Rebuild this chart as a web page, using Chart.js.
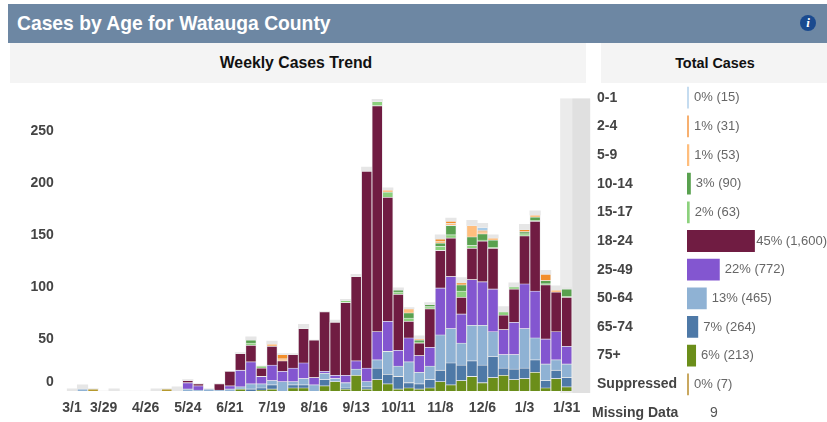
<!DOCTYPE html>
<html>
<head>
<meta charset="utf-8">
<script src="https://cdn.jsdelivr.net/npm/chart.js@4"></script>
<style>
  html, body { margin: 0; padding: 0; background: #fff; }
  body { width: 827px; height: 422px; position: relative; overflow: hidden; font-family: "Liberation Sans", Arial, sans-serif; }
  .box { position: absolute; box-sizing: border-box; }
  #titleBar { left: 8px; top: 4px; width: 819px; height: 39px; background: #6d87a3; color: #fff; font-size: 19.3px; font-weight: bold; line-height: 39px; padding-left: 9px; }
  #info { left: 800px; top: 15px; width: 16px; height: 16px; border-radius: 50%; background: #1a4a8f; color: #fff; font: italic bold 13px/16px "Liberation Serif", serif; text-align: center; }
  .sub { top: 43px; height: 40px; background: #f4f4f4; color: #111; font-weight: bold; line-height: 40px; text-align: center; }
  #subTrend { left: 10px; width: 576px; font-size: 15.8px; padding-right: 4px; }
  #subTotal { left: 601px; width: 228px; font-size: 14.4px; }
  #trendWrap { left: 0; top: 85px; width: 593px; height: 337px; }
  #totalWrap { left: 590px; top: 75px; width: 237px; height: 332px; }
  #missLabel { left: 592px; top: 404px; font-size: 14px; font-weight: bold; color: #444; }
  #missValue { left: 710px; top: 404px; font-size: 14px; color: #555; }
</style>
</head>
<body>
<div class="box" id="titleBar">Cases by Age for Watauga County</div>
<div class="box" id="info">i</div>
<div class="box sub" id="subTrend">Weekly Cases Trend</div>
<div class="box sub" id="subTotal">Total Cases</div>
<div class="box" id="trendWrap"><canvas id="trend"></canvas></div>
<div class="box" id="totalWrap"><canvas id="total"></canvas></div>
<div class="box" id="missLabel">Missing Data</div>
<div class="box" id="missValue">9</div>

<script>
// weekly categories, two empty weeks at the end keep the axis running under the grey band
const weeks = ['3/1','3/15','3/22','3/29','4/5','4/12','4/19','4/26','5/3','5/10',
  '5/17','5/24','5/31','6/7','6/14','6/21','6/28','7/5','7/12','7/19',
  '7/26','8/2','8/9','8/16','8/23','8/30','9/6','9/13','9/20','9/27',
  '10/4','10/11','10/18','10/25','11/1','11/8','11/15','11/22','11/29','12/6',
  '12/13','12/20','12/27','1/3','1/10','1/17','1/24','1/31','2/7','2/14'];
const shownWeeks = ['3/1','3/29','4/26','5/24','6/21','7/19','8/16','9/13','10/11','11/8','12/6','1/3','1/31'];
const yTicks = [0, 50, 100, 150, 200, 250];

const age75 = [0,0,0,0,0,0,0,0,0,0, 0,0,0,0,0,0,2,0,1,2, 0,3,3,0,5,9,2,15,2,11, 7,2,3,2,3,9,6,10,14,8, 13,15,11,12,18,3,12,4];
const age65 = [0,0,0,0,0,0,0,0,0,0, 0,0,0,0,0,0,0,2,2,4, 0,3,3,0,6,0,1,0,2,11, 9,12,5,5,8,11,21,15,15,17, 20,7,10,10,12,7,8,9];
const age50 = [0,2,0,0,0,0,0,0,0,0, 0,2,1,2,1,2,2,5,4,4, 9,3,6,6,6,3,5,6,5,8, 22,10,20,11,13,34,33,21,34,38, 24,13,14,38,21,16,10,13];
const age25 = [0,0,0,0,0,0,0,0,0,0, 0,6,4,0,0,3,16,21,7,15, 10,13,15,7,2,3,7,8,13,27, 29,15,23,16,18,45,50,28,44,42, 41,24,31,43,45,24,27,17];
const age18 = [0,0,0,0,0,0,0,0,0,0, 0,2,2,0,6,14,16,16,8,18, 10,13,33,36,57,51,70,81,189,217, 119,54,16,12,37,36,37,16,30,39, 39,14,32,46,67,52,38,47];
const age15 = [0,0,0,0,0,0,0,0,0,0, 0,0,0,0,0,0,0,2,2,0, 0,0,0,0,0,0,2,0,0,4, 5,2,3,1,2,4,3,6,3,1, 1,3,2,2,1,1,0,1];
const age10 = [0,0,0,0,0,0,0,0,0,0, 0,0,0,0,0,0,0,3,0,0, 0,0,0,0,0,0,0,0,0,0, 0,2,5,2,2,3,9,6,8,6, 7,0,0,2,3,3,0,7];
const age5  = [0,0,0,0,0,0,0,0,0,0, 0,0,0,0,0,0,0,0,0,2, 2,0,0,0,0,0,0,0,0,0, 2,0,4,1,0,2,2,0,11,2, 2,0,0,0,2,0,2,0];
const age2  = [0,0,0,0,0,0,0,0,0,0, 0,0,0,0,0,0,0,0,0,0, 4,0,0,0,0,0,0,0,0,0, 0,0,0,0,0,2,2,2,0,1, 0,0,0,2,0,6,0,0];
const age0  = [0,0,0,0,0,0,0,0,0,0, 0,0,0,0,0,0,0,0,0,0, 0,0,0,0,0,0,0,0,0,0, 0,0,0,0,0,0,0,0,0,3, 0,0,0,0,0,0,0,0];
const suppressed = [0,0,2,0,0,0,0,0,0,2, 0,0,0,0,0,0,0,0,0,0, 0,0,0,0,0,0,0,0,0,0, 0,0,0,0,0,0,0,0,0,0, 0,0,0,0,0,0,0,0];
const unlabeled  = [2,4,0,0,2,0,0,0,2,0, 4,1,0,0,0,0,1,3,0,3, 1,1,4,0,0,2,1,2,4,2, 2,2,1,3,2,4,3,5,5,4, 3,5,4,5,4,4,4,1];

const ageGroups  = ['0-1','2-4','5-9','10-14','15-17','18-24','25-49','50-64','65-74','75+','Suppressed'];
const totalCases = [15, 31, 53, 90, 63, 1600, 772, 465, 264, 213, 7];
const totalPct   = ['0%','1%','1%','3%','2%','45%','22%','13%','7%','6%','0%'];
const ageColors  = ['#a9cce8','#f28e2b','#ffbe7d','#59a14f','#8cd17d','#701c42','#8356d0','#8fb2d4','#4e79a7','#6b8e1a','#b6992d'];
// the thin swatches on the right read paler than the same colour in the stacks
const totalColors = ['#c5dcf0','#f7b070','#ffbe7d','#59a14f','#8cd17d','#701c42','#8356d0','#8fb2d4','#4e79a7','#6b8e1a','#c9a860'];

const haloColor = '#ebebeb';
const labelColor = '#444';

// stacked bottom to top, same order as the picture
const stack = [
  [age75, 9], [age65, 8], [age50, 7], [age25, 6], [age18, 5], [age15, 4],
  [age10, 3], [age5, 2], [age2, 1], [age0, 0], [suppressed, 10]
];
const trendSets = stack.map(s => ({
  label: ageGroups[s[1]],
  data: s[0],
  backgroundColor: ageColors[s[1]],
  borderColor: haloColor,
  borderWidth: 0.8
}));
trendSets.push({ label: 'Other', data: unlabeled, backgroundColor: '#e6e6e6', borderWidth: 0 });

// grey band behind the latest weeks
const bandPlugin = {
  id: 'band',
  beforeDatasetsDraw(chart) {
    const c = chart.ctx, xs = chart.scales.x, ys = chart.scales.y;
    const last = xs.getPixelForValue(47);
    c.save();
    c.fillStyle = '#ebebeb';
    c.fillRect(last - 6.5, ys.top, 12, ys.bottom - ys.top + 2);
    c.fillStyle = '#e0e0e0';
    c.fillRect(last + 5.5, ys.top, 18, ys.bottom - ys.top + 2);
    c.restore();
  }
};

// the zero label sits above the baseline in the original
const zeroLabelPlugin = {
  id: 'zeroLabel',
  afterDraw(chart) {
    const c = chart.ctx, ys = chart.scales.y;
    c.save();
    c.font = 'bold 14px "Liberation Sans", Arial, sans-serif';
    c.fillStyle = labelColor;
    c.textAlign = 'right';
    c.textBaseline = 'middle';
    c.fillText('0', ys.right - 13, ys.getPixelForValue(0) - 9);
    c.restore();
  }
};

new Chart(document.getElementById('trend'), {
  type: 'bar',
  data: { labels: weeks, datasets: trendSets },
  plugins: [bandPlugin, zeroLabelPlugin],
  options: {
    responsive: true,
    maintainAspectRatio: false,
    animation: false,
    layout: { padding: { top: 3, left: 0, right: 0, bottom: 0 } },
    plugins: { legend: { display: false }, tooltip: { enabled: false } },
    datasets: { bar: { categoryPercentage: 1, barPercentage: 1 } },
    scales: {
      x: {
        stacked: true,
        grid: { display: false },
        border: { display: false },
        afterFit(s) { s.height = 31; },
        ticks: {
          autoSkip: false,
          maxRotation: 0,
          padding: 1,
          color: labelColor,
          font: { family: '"Liberation Sans", Arial, sans-serif', size: 14, weight: 'bold' },
          callback(v) { return shownWeeks.includes(weeks[v]) ? weeks[v] : ''; }
        }
      },
      y: {
        stacked: true,
        min: 0,
        max: 281,
        grid: { display: false },
        border: { display: false },
        afterFit(s) { s.width = 66.75; },
        afterBuildTicks(s) { s.ticks = yTicks.map(v => ({ value: v })); },
        ticks: {
          padding: 5,
          color: labelColor,
          font: { family: '"Liberation Sans", Arial, sans-serif', size: 14, weight: 'bold' },
          callback(v) { return v === 0 ? '' : v; }
        }
      }
    }
  }
});

// value labels right of the total bars
const totalLabelPlugin = {
  id: 'totalLabel',
  afterDatasetsDraw(chart) {
    const c = chart.ctx;
    c.save();
    c.font = '13px "Liberation Sans", Arial, sans-serif';
    c.fillStyle = '#666';
    c.textBaseline = 'middle';
    chart.getDatasetMeta(0).data.forEach((bar, i) => {
      const text = totalPct[i] + ' (' + totalCases[i].toLocaleString('en-US') + ')';
      const x = Math.min(bar.x + 5, chart.width - c.measureText(text).width);
      c.fillText(text, x, bar.y);
    });
    c.restore();
  }
};

new Chart(document.getElementById('total'), {
  type: 'bar',
  data: {
    labels: ageGroups,
    datasets: [{
      data: totalCases,
      backgroundColor: totalColors,
      minBarLength: 2,
      categoryPercentage: 0.76,
      barPercentage: 1
    }]
  },
  plugins: [totalLabelPlugin],
  options: {
    indexAxis: 'y',
    responsive: true,
    maintainAspectRatio: false,
    animation: false,
    layout: { padding: { left: 7 } },
    plugins: { legend: { display: false }, tooltip: { enabled: false } },
    scales: {
      x: { display: false, min: 0, max: 3300 },
      y: {
        grid: { display: false },
        border: { display: false },
        afterFit(s) { s.width = 90; },
        ticks: {
          crossAlign: 'far',
          autoSkip: false,
          padding: 0,
          color: labelColor,
          font: { family: '"Liberation Sans", Arial, sans-serif', size: 14, weight: 'bold' }
        }
      }
    }
  }
});
</script>
</body>
</html>
